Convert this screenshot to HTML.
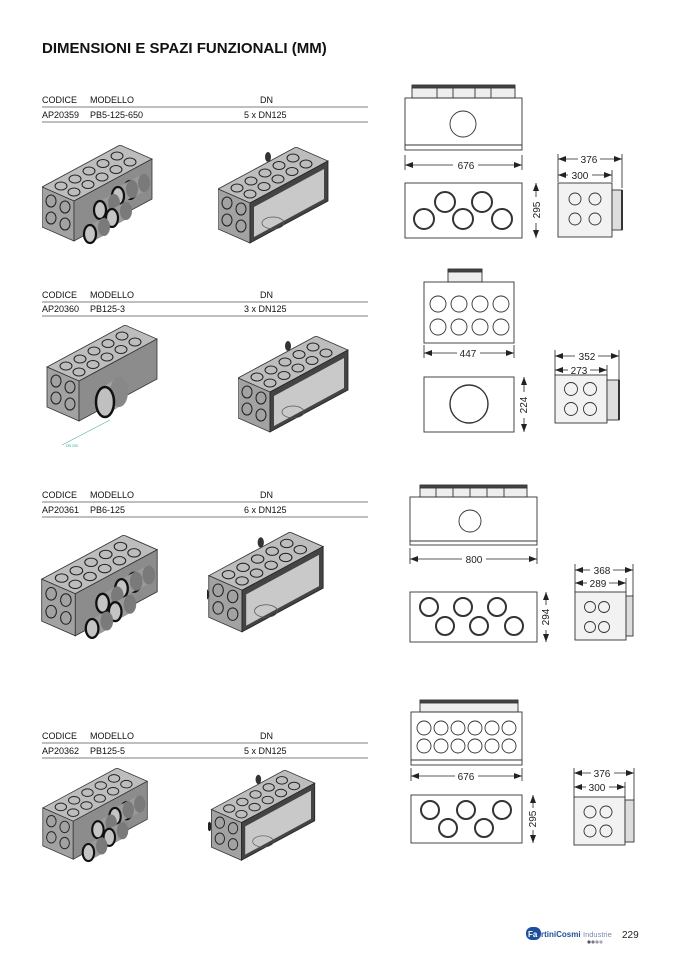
<!DOCTYPE html>
<html><head><meta charset="utf-8"><style>
html,body{margin:0;padding:0;background:#fff}
svg{display:block}
text{font-family:"Liberation Sans",sans-serif}
.a{marker-start:url(#arr)}
.b{marker-end:url(#arr)}
</style></head><body>
<svg width="677" height="958" viewBox="0 0 677 958" xmlns="http://www.w3.org/2000/svg">
<defs>
<marker id="arr" viewBox="0 0 8 6" refX="8" refY="3" markerWidth="8" markerHeight="6" markerUnits="userSpaceOnUse" orient="auto-start-reverse"><path d="M0,0 L8,3 L0,6 Z" fill="#222"/></marker>
<g id="topholes" fill="none" stroke="#222" stroke-width="1">
<ellipse cx="19" cy="41" rx="6" ry="4"/><ellipse cx="33" cy="34" rx="6" ry="4"/><ellipse cx="47" cy="26" rx="6" ry="4"/><ellipse cx="61" cy="18.5" rx="6" ry="4"/><ellipse cx="75" cy="11" rx="6" ry="4"/>
<ellipse cx="32" cy="47" rx="6" ry="4"/><ellipse cx="46" cy="39.5" rx="6" ry="4"/><ellipse cx="60" cy="32" rx="6" ry="4"/><ellipse cx="74" cy="24.5" rx="6" ry="4"/><ellipse cx="88" cy="17" rx="6" ry="4"/>
</g>
<g id="endholes" fill="none" stroke="#222" stroke-width="1">
<ellipse cx="9" cy="56" rx="5" ry="6"/><ellipse cx="23" cy="62" rx="5" ry="6"/><ellipse cx="9" cy="73" rx="5" ry="6"/><ellipse cx="23" cy="79" rx="5" ry="6"/>
</g>
<g id="stub">
<path d="M-1,-9 L-14,-2 L-14,16 L-1,9 Z" fill="#9a9a9a"/>
<ellipse cx="0" cy="0" rx="6" ry="9" fill="#7a7a7a"/>
<ellipse cx="-14" cy="7" rx="6" ry="9" fill="#c4c4c4" stroke="#111" stroke-width="2.2"/>
</g>
<symbol id="boxA" viewBox="0 0 112 100">
<polygon points="0,42 78,0 110,14 32,56" fill="#bdbdbd" stroke="#333" stroke-width=".8"/>
<polygon points="0,42 32,56 32,96 0,82" fill="#a2a2a2" stroke="#333" stroke-width=".8"/>
<polygon points="32,56 110,14 110,54 32,96" fill="#8c8c8c" stroke="#333" stroke-width=".8"/>
<use href="#topholes"/><use href="#endholes"/>
<use href="#stub" transform="translate(102,38)"/>
<use href="#stub" transform="translate(90,44)"/>
<use href="#stub" transform="translate(72,58)"/>
<use href="#stub" transform="translate(84,66)"/>
<use href="#stub" transform="translate(62,82)"/>
</symbol>
<symbol id="boxB" viewBox="0 0 112 100">
<polygon points="0,42 78,0 110,14 32,56" fill="#bdbdbd" stroke="#333" stroke-width=".8"/>
<polygon points="0,42 32,56 32,96 0,82" fill="#a2a2a2" stroke="#333" stroke-width=".8"/>
<polygon points="32,56 110,14 110,54 32,96" fill="#444" stroke="#222" stroke-width=".8"/>
<polygon points="36,60 106,22 106,52 36,90" fill="#c9c9c9"/>
<ellipse cx="55" cy="76" rx="11" ry="6" fill="none" stroke="#555" stroke-width=".7"/>
<use href="#topholes"/><use href="#endholes"/>
<ellipse cx="-2" cy="60" rx="2" ry="5" fill="#222"/>
<ellipse cx="50" cy="10" rx="3" ry="5" fill="#333"/>
</symbol>
<symbol id="boxC" viewBox="0 0 112 100">
<polygon points="0,42 78,0 110,14 32,56" fill="#bdbdbd" stroke="#333" stroke-width=".8"/>
<polygon points="0,42 32,56 32,96 0,82" fill="#a2a2a2" stroke="#333" stroke-width=".8"/>
<polygon points="32,56 110,14 110,54 32,96" fill="#8c8c8c" stroke="#333" stroke-width=".8"/>
<use href="#topholes"/><use href="#endholes"/>
<path d="M72,52 L56,62 L56,92 L72,82 Z" fill="#a5a5a5"/>
<ellipse cx="72" cy="67" rx="9" ry="15" fill="#888"/>
<ellipse cx="58" cy="77" rx="9" ry="15" fill="#c0c0c0" stroke="#111" stroke-width="2.5"/>
</symbol>
</defs>

<text x="42" y="53" font-size="15" font-weight="bold" fill="#111" letter-spacing="0">DIMENSIONI E SPAZI FUNZIONALI (MM)</text>

<g font-size="9" fill="#111">
<text x="42" y="103">CODICE</text><text x="90" y="103">MODELLO</text><text x="260" y="103">DN</text>
<text x="42" y="118">AP20359</text><text x="90" y="118">PB5-125-650</text><text x="244" y="118">5 x DN125</text>
<text x="42" y="298">CODICE</text><text x="90" y="298">MODELLO</text><text x="260" y="298">DN</text>
<text x="42" y="312">AP20360</text><text x="90" y="312">PB125-3</text><text x="244" y="312">3 x DN125</text>
<text x="42" y="498">CODICE</text><text x="90" y="498">MODELLO</text><text x="260" y="498">DN</text>
<text x="42" y="513">AP20361</text><text x="90" y="513">PB6-125</text><text x="244" y="513">6 x DN125</text>
<text x="42" y="739">CODICE</text><text x="90" y="739">MODELLO</text><text x="260" y="739">DN</text>
<text x="42" y="754">AP20362</text><text x="90" y="754">PB125-5</text><text x="244" y="754">5 x DN125</text>
</g>
<g stroke="#555" stroke-width=".8">
<line x1="42" y1="107" x2="368" y2="107"/><line x1="42" y1="122" x2="368" y2="122"/>
<line x1="42" y1="302" x2="368" y2="302"/><line x1="42" y1="316" x2="368" y2="316"/>
<line x1="42" y1="502" x2="368" y2="502"/><line x1="42" y1="517" x2="368" y2="517"/>
<line x1="42" y1="743" x2="368" y2="743"/><line x1="42" y1="758" x2="368" y2="758"/>
</g>

<use href="#boxA" x="42" y="145" width="112" height="100"/>
<use href="#boxB" x="218" y="147" width="112" height="100"/>
<use href="#boxC" x="38" y="325" width="130" height="100"/>
<line x1="62" y1="445" x2="110" y2="420" stroke="#5aa" stroke-width=".6"/>
<text x="66" y="447" font-size="3.5" fill="#3a8">DN 200</text>
<use href="#boxB" x="238" y="336" width="112" height="100"/>
<use href="#boxA" x="38" y="535" width="125" height="105"/>
<use href="#boxB" x="207" y="532" width="120" height="104"/>
<use href="#boxA" x="40" y="768" width="112" height="95"/>
<use href="#boxB" x="208" y="770" width="112" height="94"/>

<g fill="none" stroke="#333" stroke-width=".9">
<rect x="412" y="86" width="103" height="12" fill="#eee"/>
<rect x="412" y="85" width="103" height="3" fill="#444"/>
<line x1="437" y1="88" x2="437" y2="98"/><line x1="453" y1="88" x2="453" y2="98"/><line x1="475" y1="88" x2="475" y2="98"/><line x1="491" y1="88" x2="491" y2="98"/>
<rect x="405" y="98" width="117" height="52"/><line x1="405" y1="145" x2="522" y2="145"/>
<circle cx="463" cy="124" r="13"/>
<rect x="405" y="183" width="117" height="55"/>
<circle cx="424" cy="219" r="10" stroke-width="2"/><circle cx="445" cy="202" r="10" stroke-width="2"/><circle cx="463" cy="219" r="10" stroke-width="2"/><circle cx="482" cy="202" r="10" stroke-width="2"/><circle cx="502" cy="219" r="10" stroke-width="2"/>
<rect x="558" y="183" width="54" height="54" fill="#f2f2f2"/>
<rect x="612" y="190" width="10" height="40" fill="#ddd"/><line x1="622" y1="190" x2="622" y2="230" stroke-width="2"/>
<circle cx="575" cy="199" r="6"/><circle cx="595" cy="199" r="6"/><circle cx="575" cy="219" r="6"/><circle cx="595" cy="219" r="6"/>
<rect x="448" y="270" width="34" height="12" fill="#eee"/><rect x="448" y="269" width="34" height="3" fill="#444"/>
<rect x="424" y="282" width="90" height="61"/>
<circle cx="438" cy="304" r="8"/><circle cx="459" cy="304" r="8"/><circle cx="480" cy="304" r="8"/><circle cx="501" cy="304" r="8"/>
<circle cx="438" cy="327" r="8"/><circle cx="459" cy="327" r="8"/><circle cx="480" cy="327" r="8"/><circle cx="501" cy="327" r="8"/>
<rect x="424" y="377" width="90" height="55"/>
<circle cx="469" cy="404" r="19" stroke-width="1.4"/>
<rect x="555" y="375" width="52" height="48" fill="#f2f2f2"/>
<rect x="607" y="380" width="12" height="40" fill="#ddd"/><line x1="619" y1="380" x2="619" y2="420" stroke-width="2"/>
<circle cx="571" cy="389" r="6.5"/><circle cx="590" cy="389" r="6.5"/><circle cx="571" cy="409" r="6.5"/><circle cx="590" cy="409" r="6.5"/>
<rect x="420" y="486" width="107" height="11" fill="#eee"/><rect x="420" y="485" width="107" height="3" fill="#444"/>
<line x1="436" y1="488" x2="436" y2="497"/><line x1="453" y1="488" x2="453" y2="497"/><line x1="470" y1="488" x2="470" y2="497"/><line x1="487" y1="488" x2="487" y2="497"/><line x1="504" y1="488" x2="504" y2="497"/>
<rect x="410" y="497" width="127" height="48"/><line x1="410" y1="541" x2="537" y2="541"/>
<circle cx="470" cy="521" r="11"/>
<rect x="410" y="592" width="127" height="50"/>
<circle cx="429" cy="607" r="9" stroke-width="2"/><circle cx="463" cy="607" r="9" stroke-width="2"/><circle cx="497" cy="607" r="9" stroke-width="2"/>
<circle cx="445" cy="626" r="9" stroke-width="2"/><circle cx="479" cy="626" r="9" stroke-width="2"/><circle cx="514" cy="626" r="9" stroke-width="2"/>
<rect x="575" y="592" width="51" height="48" fill="#f2f2f2"/>
<rect x="626" y="596" width="7" height="40" fill="#ddd"/>
<circle cx="590" cy="607" r="5.5"/><circle cx="604" cy="607" r="5.5"/><circle cx="590" cy="627" r="5.5"/><circle cx="604" cy="627" r="5.5"/>
<rect x="420" y="701" width="98" height="11" fill="#eee"/><rect x="420" y="700" width="98" height="3" fill="#444"/>
<rect x="411" y="712" width="111" height="53"/><line x1="411" y1="760" x2="522" y2="760"/>
<circle cx="424" cy="728" r="7"/><circle cx="441" cy="728" r="7"/><circle cx="458" cy="728" r="7"/><circle cx="475" cy="728" r="7"/><circle cx="492" cy="728" r="7"/><circle cx="509" cy="728" r="7"/>
<circle cx="424" cy="746" r="7"/><circle cx="441" cy="746" r="7"/><circle cx="458" cy="746" r="7"/><circle cx="475" cy="746" r="7"/><circle cx="492" cy="746" r="7"/><circle cx="509" cy="746" r="7"/>
<rect x="411" y="795" width="111" height="48"/>
<circle cx="430" cy="810" r="9" stroke-width="2"/><circle cx="466" cy="810" r="9" stroke-width="2"/><circle cx="502" cy="810" r="9" stroke-width="2"/>
<circle cx="448" cy="828" r="9" stroke-width="2"/><circle cx="484" cy="828" r="9" stroke-width="2"/>
<rect x="574" y="797" width="51" height="48" fill="#f2f2f2"/>
<rect x="625" y="800" width="9" height="42" fill="#ddd"/>
<circle cx="590" cy="812" r="6"/><circle cx="606" cy="812" r="6"/><circle cx="590" cy="831" r="6"/><circle cx="606" cy="831" r="6"/>
</g>

<g stroke="#222" stroke-width=".8" fill="none">
<line class="a" x1="405" y1="165" x2="453" y2="165"/><line class="b" x1="478" y1="165" x2="522" y2="165"/>
<line x1="405" y1="155" x2="405" y2="170"/><line x1="522" y1="155" x2="522" y2="170"/>
<line class="a" x1="558" y1="159" x2="578" y2="159"/><line class="b" x1="600" y1="159" x2="622" y2="159"/>
<line class="a" x1="558" y1="175" x2="568" y2="175"/><line class="b" x1="592" y1="175" x2="612" y2="175"/>
<line x1="558" y1="154" x2="558" y2="182"/><line x1="622" y1="154" x2="622" y2="188"/><line x1="612" y1="170" x2="612" y2="182"/>
<line class="a" x1="536" y1="183" x2="536" y2="197"/><line class="b" x1="536" y1="223" x2="536" y2="238"/>

<line class="a" x1="424" y1="353" x2="457" y2="353"/><line class="b" x1="480" y1="353" x2="514" y2="353"/>
<line x1="424" y1="345" x2="424" y2="358"/><line x1="514" y1="345" x2="514" y2="358"/>
<line class="a" x1="555" y1="356" x2="575" y2="356"/><line class="b" x1="598" y1="356" x2="619" y2="356"/>
<line class="a" x1="555" y1="370" x2="568" y2="370"/><line class="b" x1="590" y1="370" x2="607" y2="370"/>
<line x1="555" y1="350" x2="555" y2="375"/><line x1="619" y1="350" x2="619" y2="380"/><line x1="607" y1="365" x2="607" y2="375"/>
<line class="a" x1="524" y1="377" x2="524" y2="392"/><line class="b" x1="524" y1="418" x2="524" y2="432"/>

<line class="a" x1="410" y1="559" x2="462" y2="559"/><line class="b" x1="486" y1="559" x2="537" y2="559"/>
<line x1="410" y1="548" x2="410" y2="564"/><line x1="537" y1="548" x2="537" y2="564"/>
<line class="a" x1="575" y1="570" x2="590" y2="570"/><line class="b" x1="613" y1="570" x2="633" y2="570"/>
<line class="a" x1="575" y1="583" x2="587" y2="583"/><line class="b" x1="609" y1="583" x2="626" y2="583"/>
<line x1="575" y1="564" x2="575" y2="592"/><line x1="633" y1="564" x2="633" y2="596"/><line x1="626" y1="578" x2="626" y2="592"/>
<line class="a" x1="546" y1="592" x2="546" y2="605"/><line class="b" x1="546" y1="630" x2="546" y2="642"/>

<line class="a" x1="411" y1="776" x2="455" y2="776"/><line class="b" x1="478" y1="776" x2="522" y2="776"/>
<line x1="411" y1="768" x2="411" y2="781"/><line x1="522" y1="768" x2="522" y2="781"/>
<line class="a" x1="574" y1="773" x2="591" y2="773"/><line class="b" x1="614" y1="773" x2="634" y2="773"/>
<line class="a" x1="574" y1="787" x2="586" y2="787"/><line class="b" x1="609" y1="787" x2="625" y2="787"/>
<line x1="574" y1="768" x2="574" y2="797"/><line x1="634" y1="768" x2="634" y2="800"/><line x1="625" y1="782" x2="625" y2="797"/>
<line class="a" x1="533" y1="795" x2="533" y2="808"/><line class="b" x1="533" y1="830" x2="533" y2="843"/>
</g>
<g font-size="10" fill="#222">
<text x="466" y="169" text-anchor="middle">676</text>
<text x="589" y="163" text-anchor="middle">376</text><text x="580" y="179" text-anchor="middle">300</text>
<text x="540" y="210" text-anchor="middle" transform="rotate(-90 540 210)">295</text>
<text x="468" y="357" text-anchor="middle">447</text>
<text x="587" y="360" text-anchor="middle">352</text><text x="579" y="374" text-anchor="middle">273</text>
<text x="527" y="405" text-anchor="middle" transform="rotate(-90 527 405)">224</text>
<text x="474" y="563" text-anchor="middle">800</text>
<text x="602" y="574" text-anchor="middle">368</text><text x="598" y="587" text-anchor="middle">289</text>
<text x="549" y="617" text-anchor="middle" transform="rotate(-90 549 617)">294</text>
<text x="466" y="780" text-anchor="middle">676</text>
<text x="602" y="777" text-anchor="middle">376</text><text x="597" y="791" text-anchor="middle">300</text>
<text x="536" y="819" text-anchor="middle" transform="rotate(-90 536 819)">295</text>
</g>

<rect x="526" y="927" width="15" height="13" rx="6" fill="#1d4f9c"/>
<text x="528" y="937" font-size="8" font-weight="bold" fill="#fff">Fa</text>
<text x="541" y="937" font-size="8" font-weight="bold" fill="#1d4f9c">rtiniCosmi</text>
<text x="583" y="937" font-size="7.5" fill="#7a8aa8">Industrie</text>
<circle cx="589" cy="942" r="1.6" fill="#556"/><circle cx="593" cy="942" r="1.6" fill="#778"/><circle cx="597" cy="942" r="1.6" fill="#99a"/><circle cx="601" cy="942" r="1.6" fill="#aab"/>
<text x="622" y="938" font-size="10" fill="#222">229</text>
</svg>
</body></html>
